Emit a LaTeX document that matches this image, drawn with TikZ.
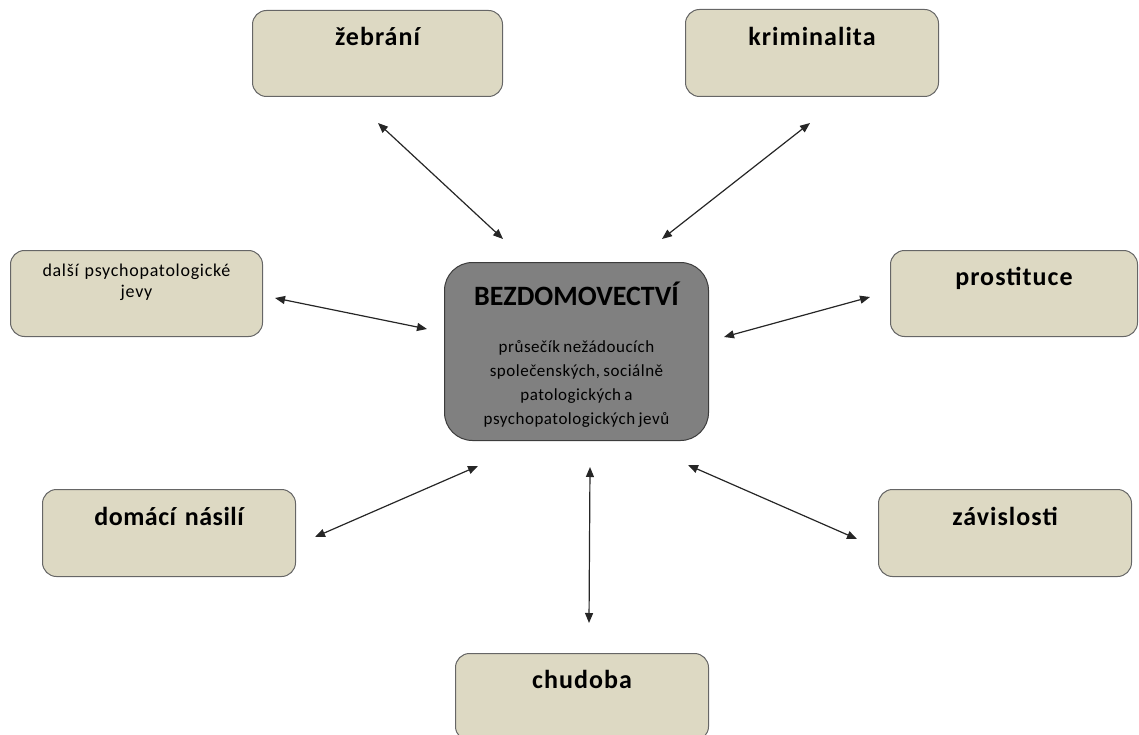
\documentclass[tikz,border=0pt]{standalone}
\usepackage{fontspec}
\setmainfont{Carlito}
\newfontfamily\lblfont[LetterSpace=4]{Carlito}
\newfontfamily\lblfontnarrow[LetterSpace=2]{Carlito}
\newfontfamily\smallfont[LetterSpace=3]{Carlito}
\newfontfamily\dalsifont[LetterSpace=4]{Carlito}
\usetikzlibrary{arrows.meta}
\definecolor{beige}{HTML}{DDD9C3}
\definecolor{boxline}{HTML}{666666}
\definecolor{centerfill}{HTML}{808080}
\definecolor{centerline}{HTML}{3C3C3C}
\tikzset{
  sidebox/.style={draw=boxline, line width=1pt, fill=beige, rounded corners=14pt,
    anchor=north west, inner sep=0pt, align=center, text width=#1,
    font=\lblfont\fontsize{26}{28}\selectfont\bfseries},
  smallbox/.style={draw=boxline, line width=1pt, fill=beige, rounded corners=14pt,
    anchor=north west, inner sep=0pt, align=center, text width=#1,
    font=\dalsifont\fontsize{18}{21}\selectfont},
  centerbox/.style={draw=centerline, line width=1pt, fill=centerfill, rounded corners=28pt,
    anchor=north west, inner sep=0pt, align=center, text width=#1},
  link/.style={draw=black!85, line width=1.2pt, {Triangle[length=10pt,width=8pt]}-{Triangle[length=10pt,width=8pt]}}
}
\begin{document}
\begin{tikzpicture}[x=1pt,y=-1pt]
\useasboundingbox (0,0) rectangle (1139,735);
% central box
\node[centerbox=264pt, text height=43pt, text depth=135pt] (bez) at (444,262)
  {{\fontsize{28}{30}\selectfont\bfseries BEZDOMOVECTVÍ}\par\vspace{23pt}
   {\smallfont\fontsize{17}{24}\selectfont průsečík nežádoucích\\ společenských, sociálně\\ patologických a\\ psychopatologických jevů\par}};
% surrounding boxes
\node[sidebox=250pt, text height=35pt, text depth=51pt] (zeb) at (252,10) {žebrání};
\node[sidebox=253pt, text height=36pt, text depth=51pt] (krim) at (685,9) {kriminalita};
\node[smallbox=252pt, text height=26pt, text depth=60pt] (dalsi) at (10,250) {další psychopatologické\\ jevy};
\node[sidebox=247pt, text height=35pt, text depth=51pt] (prost) at (890,250) {prostituce};
\node[sidebox=253pt, text height=36pt, text depth=51pt, font=\lblfontnarrow\fontsize{26}{28}\selectfont\bfseries] (dom) at (42,489) {domácí násilí};
\node[sidebox=253pt, text height=36pt, text depth=51pt] (zav) at (878,489) {závislosti};
\node[sidebox=253pt, text height=35pt, text depth=52pt] (chud) at (455,653) {chudoba};
% arrow end points
\coordinate (zebA) at (378,123);  \coordinate (zebB) at (503,239);
\coordinate (krimA) at (810,123); \coordinate (krimB) at (662,239);
\coordinate (dalA) at (275,298);  \coordinate (dalB) at (427,329);
\coordinate (proA) at (870,297);  \coordinate (proB) at (724,337);
\coordinate (domA) at (315,537);  \coordinate (domB) at (478,466);
\coordinate (chuA) at (589,623);  \coordinate (chuB) at (590,467);
\coordinate (zavA) at (857,539);  \coordinate (zavB) at (688,465);
\draw[link] (zebA) -- (zebB);
\draw[link] (krimA) -- (krimB);
\draw[link] (dalA) -- (dalB);
\draw[link] (proA) -- (proB);
\draw[link] (domA) -- (domB);
\draw[link] (chuA) -- (chuB);
\draw[link] (zavA) -- (zavB);
\end{tikzpicture}
\end{document}
